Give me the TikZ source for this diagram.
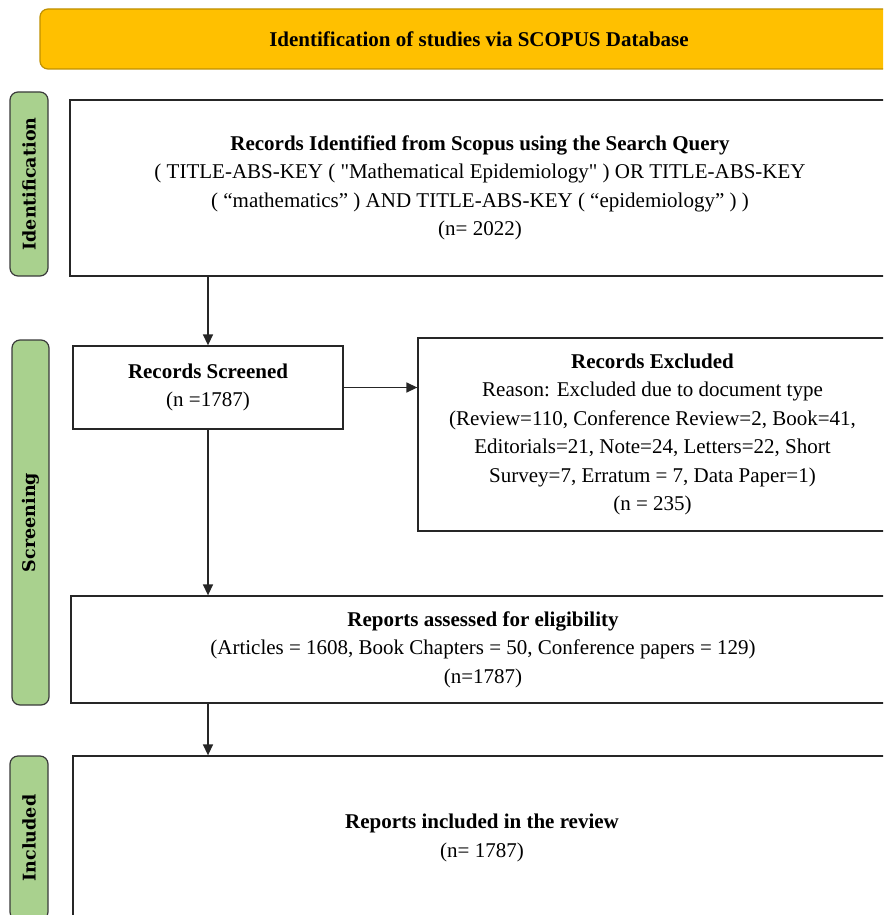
\documentclass[tikz,border=0pt]{standalone}
\usepackage{fontspec}
\setmainfont{Liberation Serif}
\newfontfamily\stagefont{DejaVu Serif}
\newfontfamily\rawfont{Liberation Serif}[Ligatures=TeXOff]
\newcommand{\sq}{{\rawfont\symbol{34}}}
\usepackage{tikz}
\usetikzlibrary{shapes,arrows,arrows.meta,positioning}
\definecolor{bannerfill}{HTML}{FFC000}
\definecolor{bannerdraw}{HTML}{BF9000}
\definecolor{stagefill}{HTML}{A9D18E}
\definecolor{stagedraw}{HTML}{3A3A3A}
\begin{document}
\begin{tikzpicture}[x=1pt, y=-1pt,
                   every node/.style={font=\fontsize{21}{28.5}\selectfont, align=center, inner sep=0pt},
                   banner/.style={draw=bannerdraw, fill=bannerfill, line width=1.2pt, rounded corners=8pt},
                   stage/.style={draw=stagedraw, fill=stagefill, line width=1.2pt, rounded corners=8pt,
                                 rotate=90, font=\stagefont\bfseries\fontsize{17.5}{20}\selectfont},
                   record/.style={draw=black!85, line width=1.3pt, fill=white},
                   arr/.style={-{Triangle[length=11pt,width=10pt]}, line width=1.4pt, black!85}]
          \useasboundingbox (0,0) rectangle (883,915);
          \clip (0,0) rectangle (883,915);
          \node[banner, minimum width=878pt, minimum height=60pt] (title) at (479,39)
            {\bfseries Identification of studies via SCOPUS Database};
          \node[stage, minimum width=184pt, minimum height=38pt] (identification) at (29,184) {Identification};
          \node[stage, minimum width=365pt, minimum height=37pt] (screening) at (30.5,522.5) {Screening};
          \node[stage, minimum width=164pt, minimum height=38pt] (included) at (29,838) {Included};
          \node[record, minimum width=820pt, minimum height=176pt] (identified) at (480,188)
            {\textbf{Records Identified from Scopus using the Search Query}\\
             ( TITLE-ABS-KEY ( \sq Mathematical Epidemiology\sq{} ) OR TITLE-ABS-KEY\\
             ( “mathematics” ) AND TITLE-ABS-KEY ( “epidemiology” ) )\\
             (n= 2022)};
          \node[record, minimum width=270pt, minimum height=83pt] (screened) at (208,387.5)
            {\textbf{Records Screened}\\ (n =1787)};
          \node[record, minimum width=469pt, minimum height=193pt] (excluded) at (652.5,434.5)
            {\textbf{Records Excluded}\\
             Reason: Excluded due to document type\\
             (Review=110, Conference Review=2, Book=41,\\
             Editorials=21, Note=24, Letters=22, Short\\
             Survey=7, Erratum = 7, Data Paper=1)\\
             (n = 235)};
          \node[record, minimum width=824pt, minimum height=107pt] (assessed) at (483,649.5)
            {\textbf{Reports assessed for eligibility}\\
             (Articles = 1608, Book Chapters = 50, Conference papers = 129)\\
             (n=1787)};
          \node[record, minimum width=818pt, minimum height=164pt] (reviewed) at (482,838)
            {\textbf{Reports included in the review}\\ (n= 1787)};
          \draw[arr] (identified.south -| screened.north) -- (screened.north);
          \draw[arr] (screened.east) -- (screened.east -| excluded.west);
          \draw[arr] (screened.south) -- (screened.south |- assessed.north);
          \draw[arr] (assessed.south -| screened.south) -- (screened.south |- reviewed.north);
        \end{tikzpicture}
\end{document}
